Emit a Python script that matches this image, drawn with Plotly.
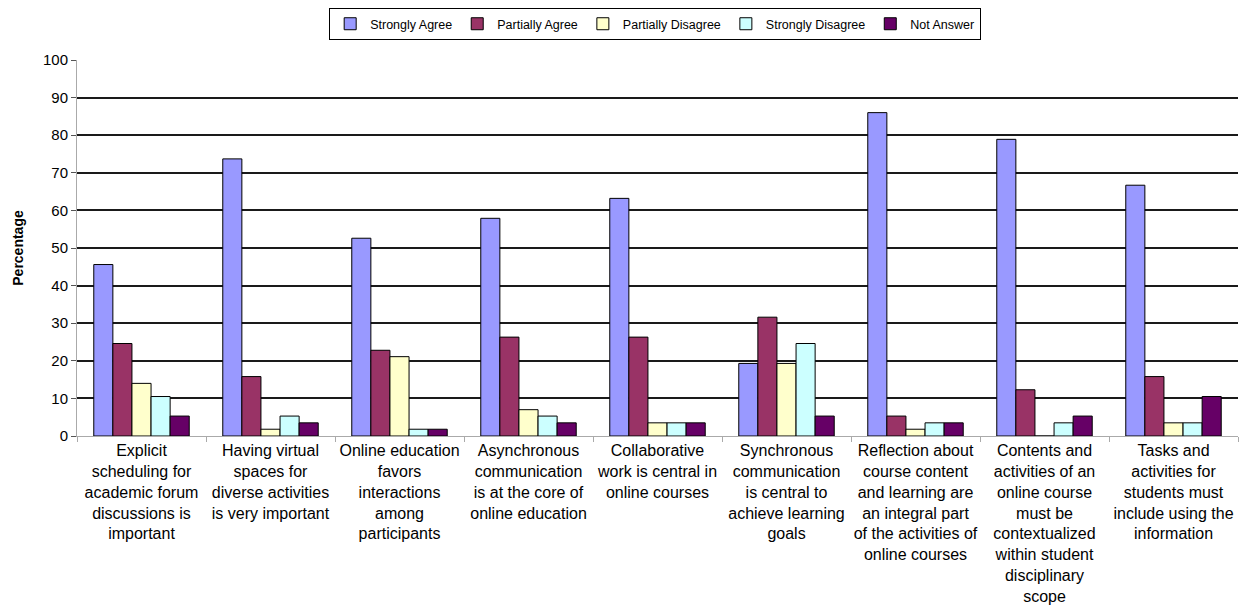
import plotly.graph_objects as go

categories = [
    "Explicit<br>scheduling for<br>academic forum<br>discussions is<br>important",
    "Having virtual<br>spaces for<br>diverse activities<br>is very important",
    "Online education<br>favors<br>interactions<br>among<br>participants",
    "Asynchronous<br>communication<br>is at the core of<br>online education",
    "Collaborative<br>work is central in<br>online courses",
    "Synchronous<br>communication<br>is central to<br>achieve learning<br>goals",
    "Reflection about<br>course content<br>and learning are<br>an integral part<br>of the activities of<br>online courses",
    "Contents and<br>activities of an<br>online course<br>must be<br>contextualized<br>within student<br>disciplinary<br>scope",
    "Tasks and<br>activities for<br>students must<br>include using the<br>information",
]

strongly_agree = [45.6, 73.7, 52.6, 57.9, 63.2, 19.3, 86.0, 78.9, 66.7]
partially_agree = [24.6, 15.8, 22.8, 26.3, 26.3, 31.6, 5.3, 12.3, 15.8]
partially_disagree = [14.0, 1.8, 21.1, 7.0, 3.5, 19.3, 1.8, 0.0, 3.5]
strongly_disagree = [10.5, 5.3, 1.8, 5.3, 3.5, 24.6, 3.5, 3.5, 3.5]
not_answer = [5.3, 3.5, 1.8, 3.5, 3.5, 5.3, 3.5, 5.3, 10.5]

series = [
    ("Strongly Agree", strongly_agree, "#9999FF"),
    ("Partially Agree", partially_agree, "#993366"),
    ("Partially Disagree", partially_disagree, "#FFFFCC"),
    ("Strongly Disagree", strongly_disagree, "#CCFFFF"),
    ("Not Answer", not_answer, "#660066"),
]

fig = go.Figure()
for name, vals, color in series:
    fig.add_trace(go.Bar(
        x=categories,
        y=vals,
        name=name,
        marker=dict(color=color, line=dict(color="black", width=1)),
    ))

fig.update_layout(
    width=1241,
    height=616,
    barmode="group",
    bargap=0.26,
    bargroupgap=0,
    plot_bgcolor="white",
    paper_bgcolor="white",
    font=dict(family="Liberation Sans, Arial, sans-serif", color="black"),
    margin=dict(l=77, r=3, t=60, b=180, autoexpand=False),
    legend=dict(
        orientation="h",
        x=0.498, xanchor="center",
        y=1.138, yanchor="top",
        bordercolor="black", borderwidth=1,
        font=dict(size=12.5),
        itemwidth=30,
        tracegroupgap=0,
        traceorder="normal",
    ),
    xaxis=dict(
        automargin=False,
        tickson="boundaries",
        ticks="outside",
        ticklen=5,
        tickcolor="#aaaaaa",
        showline=True,
        linecolor="#aaaaaa",
        linewidth=1,
        tickfont=dict(size=16),
        tickangle=0,
    ),
    yaxis=dict(
        automargin=False,
        range=[0, 100],
        dtick=10,
        showgrid=True,
        gridcolor="#1a1a1a",
        gridwidth=1.5,
        zeroline=False,
        showline=True,
        linecolor="#aaaaaa",
        ticks="outside",
        ticklen=5,
        tickcolor="#555555",
        tickfont=dict(size=15),
        title=dict(text="<b>Percentage</b>", font=dict(size=14), standoff=16),
    ),
)

# page body has a default 8px margin; drop it so the chart sits at 0,0
fig.write_html(
    "out.html",
    config={"displayModeBar": False},
    post_script="document.body.style.margin='0';",
)
